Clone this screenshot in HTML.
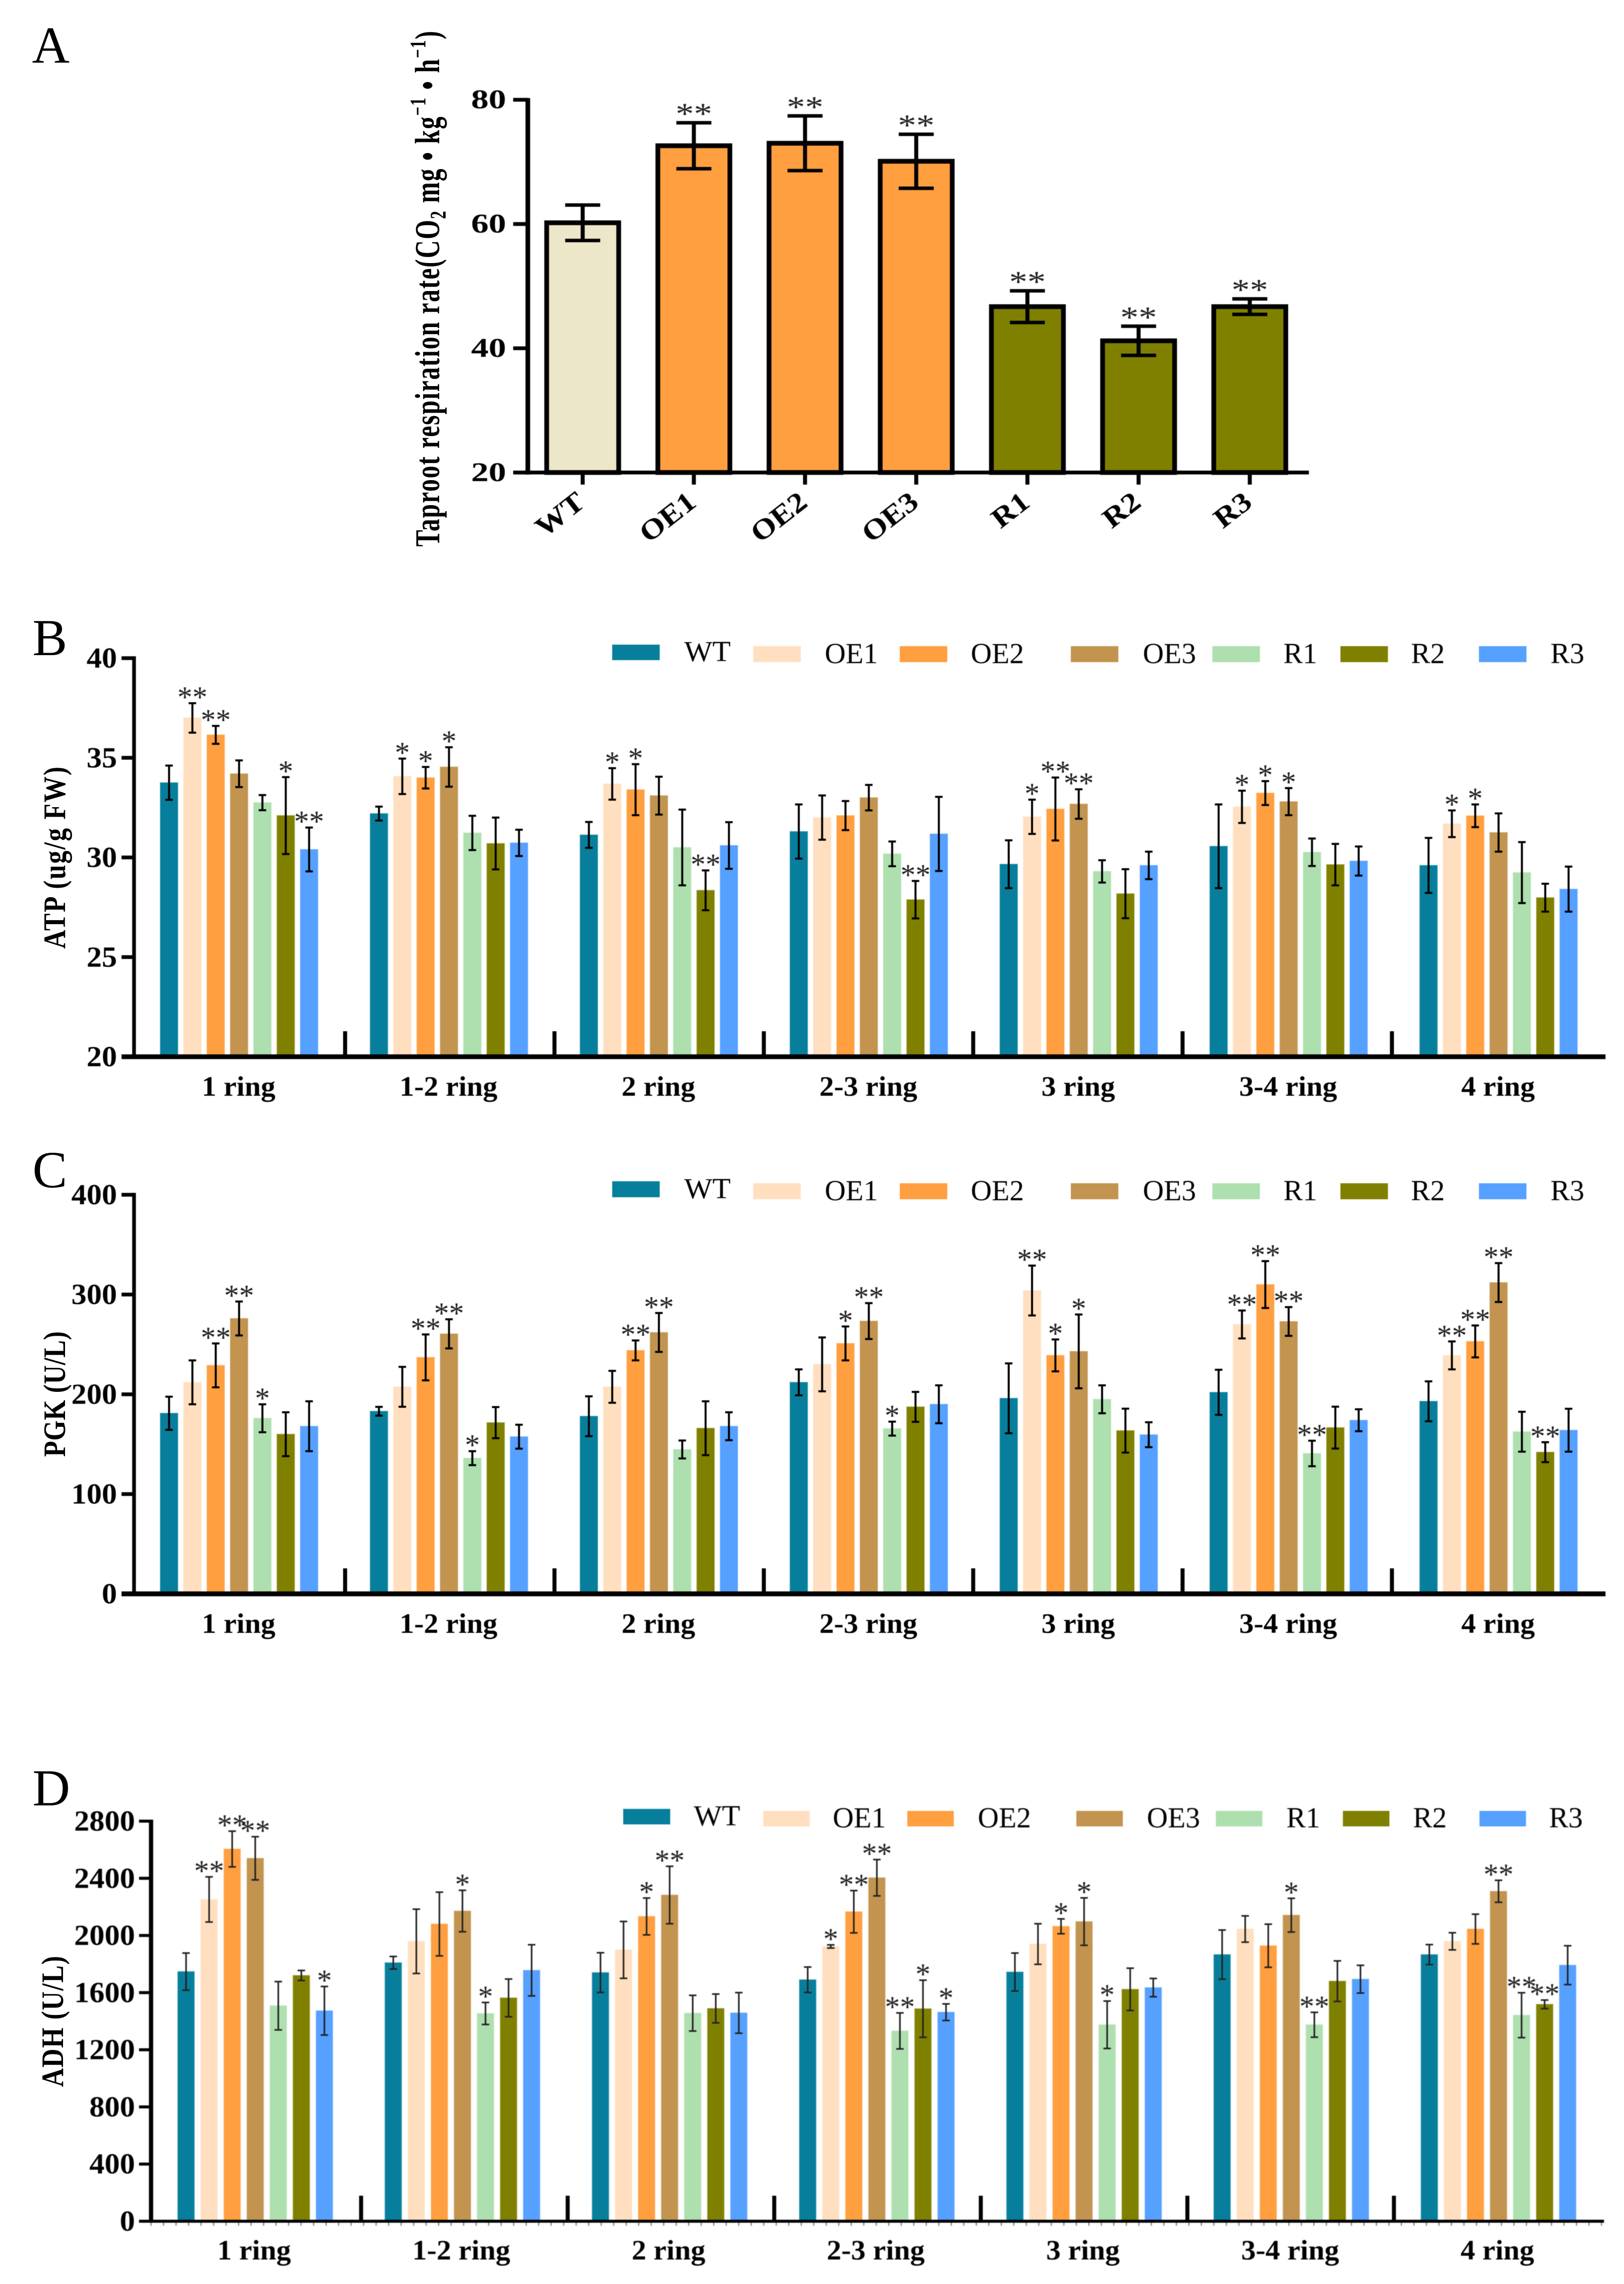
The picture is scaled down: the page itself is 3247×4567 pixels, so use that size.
<!DOCTYPE html>
<html>
<head>
<meta charset="utf-8">
<title>Taproot respiration and enzyme activity charts</title>
<style>
html,body{margin:0;padding:0;background:#fff;}
svg{display:block;font-family:"Liberation Serif",serif;}
</style>
</head>
<body>
<svg id="fig" xmlns="http://www.w3.org/2000/svg" width="3247" height="4567" viewBox="0 0 3247 4567">
<rect x="0" y="0" width="3247" height="4567" fill="#fff"/>

<text transform="translate(64,125)" font-size="104">A</text>
<text transform="translate(65,1310)" font-size="104">B</text>
<text transform="translate(65,2374)" font-size="104">C</text>
<text transform="translate(65,3610)" font-size="104">D</text>

<text transform="translate(878,1093) scale(1.4,1) rotate(-90)" font-size="50" font-weight="bold" textLength="1031" lengthAdjust="spacing">Taproot respiration rate(CO<tspan dy="9" font-size="32">2</tspan><tspan dy="-9"> mg • kg</tspan><tspan dy="-20" font-size="32">−1</tspan><tspan dy="20"> • h</tspan><tspan dy="-20" font-size="32">−1</tspan><tspan dy="20">)</tspan></text>
<text transform="translate(130,1897) scale(1.2,1) rotate(-90)" font-size="52" font-weight="bold" textLength="364" lengthAdjust="spacing">ATP (ug/g FW)</text>
<text transform="translate(130,2913) scale(1.2,1) rotate(-90)" font-size="52" font-weight="bold" textLength="251" lengthAdjust="spacing">PGK (U/L)</text>
<text transform="translate(126,4173) scale(1.2,1) rotate(-90)" font-size="52" font-weight="bold" textLength="262" lengthAdjust="spacing">ADH (U/L)</text>

<g font-size="58" style="filter:blur(0.5px)">
<rect x="1224" y="1289" width="95" height="31" fill="#077F9C"/>
<text transform="translate(1368,1322) scale(1.03,1)">WT</text>
<rect x="1506" y="1292" width="95" height="32" fill="#FFDFBF"/>
<text transform="translate(1649,1326)">OE1</text>
<rect x="1799" y="1292" width="95" height="32" fill="#FF9F40"/>
<text transform="translate(1941,1326)">OE2</text>
<rect x="2141" y="1292" width="95" height="32" fill="#C2944F"/>
<text transform="translate(2285,1326)">OE3</text>
<rect x="2424" y="1292" width="95" height="32" fill="#AEDFAE"/>
<text transform="translate(2566,1326)">R1</text>
<rect x="2680" y="1292" width="95" height="32" fill="#808000"/>
<text transform="translate(2821,1326)">R2</text>
<rect x="2957" y="1292" width="95" height="32" fill="#56A0FF"/>
<text transform="translate(3100,1326)">R3</text>
</g>

<g font-size="58" style="filter:blur(0.5px)">
<rect x="1224" y="2362" width="95" height="32" fill="#077F9C"/>
<text transform="translate(1368,2396) scale(1.03,1)">WT</text>
<rect x="1506" y="2366" width="95" height="32" fill="#FFDFBF"/>
<text transform="translate(1649,2400)">OE1</text>
<rect x="1799" y="2366" width="95" height="32" fill="#FF9F40"/>
<text transform="translate(1941,2400)">OE2</text>
<rect x="2141" y="2366" width="95" height="32" fill="#C2944F"/>
<text transform="translate(2285,2400)">OE3</text>
<rect x="2424" y="2366" width="95" height="32" fill="#AEDFAE"/>
<text transform="translate(2566,2400)">R1</text>
<rect x="2680" y="2366" width="95" height="32" fill="#808000"/>
<text transform="translate(2821,2400)">R2</text>
<rect x="2957" y="2366" width="95" height="32" fill="#56A0FF"/>
<text transform="translate(3100,2400)">R3</text>
</g>

<g font-size="58" style="filter:blur(0.8px)">
<rect x="1246" y="3617" width="94" height="31" fill="#077F9C"/>
<text transform="translate(1387,3650) scale(1.03,1)">WT</text>
<rect x="1526" y="3621" width="93" height="31" fill="#FFDFBF"/>
<text transform="translate(1665,3654)">OE1</text>
<rect x="1814" y="3621" width="93" height="31" fill="#FF9F40"/>
<text transform="translate(1955,3654)">OE2</text>
<rect x="2152" y="3621" width="93" height="31" fill="#C2944F"/>
<text transform="translate(2293,3654)">OE3</text>
<rect x="2431" y="3621" width="93" height="31" fill="#AEDFAE"/>
<text transform="translate(2572,3654)">R1</text>
<rect x="2685" y="3621" width="93" height="31" fill="#808000"/>
<text transform="translate(2825,3654)">R2</text>
<rect x="2958" y="3621" width="93" height="31" fill="#56A0FF"/>
<text transform="translate(3097,3654)">R3</text>
</g>
</svg>

<script>
const respLines = ["WT","OE1","OE2","OE3","R1","R2","R3"];
const respMeans = [60.2,72.6,73.0,70.1,46.7,41.2,46.7];
const respErrors = [2.85,3.7,4.4,4.35,2.55,2.35,1.25];
const respSig = ["","**","**","**","**","**","**"];
const respTicks = [20,40,60,80];

const rings = ["1 ring","1-2 ring","2 ring","2-3 ring","3 ring","3-4 ring","4 ring"];

const atpTicks = [20,25,30,35,40];
const atpMeans = [
  [33.75,37.0,36.15,34.2,32.75,32.1,30.4],
  [32.2,34.07,34.0,34.54,31.23,30.7,30.73],
  [31.13,33.69,33.4,33.1,30.5,28.35,30.6],
  [31.3,32.0,32.1,33.0,30.18,27.88,31.18],
  [29.66,32.04,32.43,32.68,29.3,28.18,29.6],
  [30.56,32.54,33.23,32.8,30.26,29.64,29.82],
  [29.6,31.69,32.09,31.25,29.24,27.98,28.41]
];
const atpErrors = [
  [0.86,0.74,0.45,0.67,0.38,1.93,1.1],
  [0.35,0.89,0.54,0.99,0.86,1.3,0.66],
  [0.65,0.79,1.28,0.95,1.9,1.0,1.17],
  [1.36,1.11,0.73,0.64,0.62,0.94,1.86],
  [1.2,0.86,1.58,0.74,0.56,1.23,0.69],
  [2.1,0.81,0.6,0.68,0.69,1.04,0.73],
  [1.38,0.67,0.57,0.96,1.53,0.7,1.13]
];
const atpSig = [
  ["","**","**","","","*","**"],
  ["","*","*","*","","",""],
  ["","*","*","","","**",""],
  ["","","","","","**",""],
  ["","*","**","**","","",""],
  ["","*","*","*","","",""],
  ["","*","*","","","",""]
];

const pgkTicks = [0,100,200,300,400];
const pgkMeans = [
  [181,212,229,276,176,160,168],
  [183,207.5,237,260.6,136,171.6,157.5],
  [178,207.5,244,262,144.7,166,168],
  [212,230,251,273.4,165.6,187.4,190],
  [196,304,239,243,195,163.6,159.5],
  [202,270,310,273,140.7,166.6,174],
  [193,239,253,312,162.5,142,164]
];
const pgkErrors = [
  [16.6,22,22,17,14,22,25],
  [4.4,20,23,14.6,7,15.6,12],
  [20,16,10,19.5,9,27,14],
  [13,27,17,18,7,15,19],
  [35,25,16,37,14,22,12.5],
  [22.6,14,23.5,14.4,12.8,21,11],
  [20,14,16,19.5,20,10,21.5]
];
const pgkSig = [
  ["","","**","**","*","",""],
  ["","","**","**","*","",""],
  ["","","**","**","","",""],
  ["","","*","**","*","",""],
  ["","**","*","*","","",""],
  ["","**","**","**","**","",""],
  ["","**","**","**","","**",""]
];

const adhTicks = [0,400,800,1200,1600,2000,2400,2800];
const adhMeans = [
  [1747,2252,2605,2540,1508,1720,1473],
  [1809,1959,2080,2171,1454,1563,1756],
  [1740,1899,2133,2283,1456,1489,1458],
  [1690,1923,2166,2404,1332,1487,1463],
  [1744,1940,2064,2097,1375,1623,1635],
  [1866,2045,1928,2142,1375,1680,1694],
  [1866,1959,2045,2309,1442,1518,1792]
];
const adhErrors = [
  [130,158,125,151,169,35,170],
  [44,225,223,145,77,132,179],
  [139,199,129,201,125,101,142],
  [89,11,148,127,126,200,58],
  [133,142,52,166,166,148,64],
  [172,92,151,118,87,142,97],
  [70,60,104,77,157,30,136]
];
const adhSig = [
  ["","**","**","**","","","*"],
  ["","","","*","*","",""],
  ["","","*","**","","",""],
  ["","*","**","**","**","*","*"],
  ["","","*","*","*","",""],
  ["","","","*","**","",""],
  ["","","","**","**","**",""]
];

const seriesColors = ["#077F9C","#FFDFBF","#FF9F40","#C2944F","#AEDFAE","#808000","#56A0FF"];
const respColors = ["#EDE7C9","#FF9F40","#FF9F40","#FF9F40","#808000","#808000","#808000"];

const NS = "http://www.w3.org/2000/svg";
const fig = document.getElementById("fig");

function mk(tag, parent, attrs) {
  const e = document.createElementNS(NS, tag);
  for (const k in attrs) e.setAttribute(k, attrs[k]);
  parent.appendChild(e);
  return e;
}
function txt(parent, x, y, str, size, sx, anchor, weight, fill) {
  const t = mk("text", parent, {
    transform: "translate(" + x + "," + y + ") scale(" + sx + ",1)",
    "font-size": size, "text-anchor": anchor, "font-weight": weight, fill: fill || "#000"
  });
  t.textContent = str;
  return t;
}
function scale(d0, d1, r0, r1) {
  return function (v) { return r0 + (v - d0) * (r1 - r0) / (d1 - d0); };
}
function hline(parent, x1, x2, y, w, color) {
  return mk("line", parent, { x1: x1, x2: x2, y1: y, y2: y, stroke: color || "#000", "stroke-width": w });
}
function vline(parent, x, y1, y2, w, color) {
  return mk("line", parent, { x1: x, x2: x, y1: y1, y2: y2, stroke: color || "#000", "stroke-width": w });
}

function drawRespiration() {
  const g = mk("g", fig, {style: "filter:blur(0.5px)"});
  
  
  const y = scale(20, 80, 944.8, 199.5);
  const x = function (i) { return 1165 + i * 222.3; };
  respLines.forEach(function (name, i) {
    const top = y(respMeans[i]);
    const bar = mk("rect", g, {
      x: x(i) - 72, y: top, width: 144, height: y(20) - top,
      fill: respColors[i], stroke: "#000", "stroke-width": 9.5
    });
    
    
    const hi = y(respMeans[i] + respErrors[i]);
    const lo = y(respMeans[i] - respErrors[i]);
    const stem = vline(g, x(i), hi, lo, 8);
    
    
    const capTop = hline(g, x(i) - 35, x(i) + 35, hi, 7);
    
    
    const capBottom = hline(g, x(i) - 35, x(i) + 35, lo, 7);
    
    
    if (respSig[i]) {
      const star = txt(g, x(i), hi + 2, respSig[i], 60, 1.22, "middle", "normal", "#222");
      
      
    }
    const tick = vline(g, x(i), 945, 969, 8);
    
    
    const t = txt(g, 0, 0, name, 56, 1, "end", "bold");
    t.setAttribute("transform", "translate(" + (x(i) + 8) + ",1010) rotate(-38) scale(1.15,1)");
    
    
  });
  respTicks.forEach(function (v) {
    const tick = hline(g, 1026, 1055, y(v), 7.6);
    
    
    const lab = txt(g, 1012, y(v) + 17, String(v), 54, 1.3, "end", "bold");
    
    
  });
  const yAxis = vline(g, 1055.3, 196, 949, 9.3);
  
  
  const xAxis = hline(g, 1026, 2617, 944.8, 7.6);
  
  
}

function drawGrouped(panel, means, errors, sig, ticks, o) {
  const g = mk("g", fig, {});
  
  
  if (o.blur) g.setAttribute("style", "filter:blur(" + o.blur + "px)");
  const y = scale(ticks[0], ticks[ticks.length - 1], o.y0, o.y1);
  const x = function (gi, si) { return o.g0 + gi * o.gStep + si * o.bStep; };
  means.forEach(function (row, gi) {
    row.forEach(function (v, si) {
      const top = y(v);
      const bar = mk("rect", g, {
        x: x(gi, si) - o.bw / 2, y: top, width: o.bw, height: o.y0 - top,
        fill: seriesColors[si], stroke: seriesColors[si], "stroke-opacity": 0.45, "stroke-width": 2
      });
      
      
    });
  });
  means.forEach(function (row, gi) {
    row.forEach(function (v, si) {
      const hi = y(v + errors[gi][si]);
      const lo = y(v - errors[gi][si]);
      const cx = x(gi, si);
      const stem = vline(g, cx, hi, lo, o.ew, o.ec);
      
      
      const capTop = hline(g, cx - 7.5, cx + 7.5, hi, o.ew, o.ec);
      
      
      const capBottom = hline(g, cx - 7.5, cx + 7.5, lo, o.ew, o.ec);
      
      
      if (sig[gi][si]) {
        const star = txt(g, cx, hi + 8, sig[gi][si], 60, 1, "middle", "normal", "#222");
        
        
      }
    });
  });
  ticks.forEach(function (v) {
    const tick = hline(g, o.tickLeft, o.axisX, y(v), o.tickW);
    
    
    const lab = txt(g, o.labelRight, y(v) + 19, String(v), 58, 1.05, "end", "bold");
    
    
  });
  rings.forEach(function (name, i) {
    const lab = txt(g, o.catX + i * o.gStep, o.catY, name, 56, 1.04, "middle", "bold");
    
    
    if (i < rings.length - 1) {
      const sep = vline(g, o.sep0 + i * o.sepStep, o.y0 - 51, o.y0, 8);
      
      
    }
  });
  if (o.minor) {
    for (let mx = o.axisX; mx < o.axisRight; mx += o.minor) {
      const m = vline(g, mx, o.y0, o.y0 + o.xw / 2 + 6, 2.5, "#888");
      
      
    }
  }
  const yAxis = vline(g, o.axisX, o.y1 - o.tickW / 2, o.y0, o.yw);
  
  
  const xAxis = hline(g, o.tickLeft, o.axisRight, o.y0, o.xw);
  
  
}

drawRespiration();
drawGrouped("b", atpMeans, atpErrors, atpSig, atpTicks, {
  y0: 2113, y1: 1316, g0: 338, gStep: 419.7, bStep: 46.67, bw: 35, ew: 4, ec: "#000",
  tickLeft: 243, axisX: 268, axisRight: 3210, tickW: 7.4, yw: 7.4, xw: 9.4,
  labelRight: 234, catX: 477, catY: 2191, sep0: 690, sepStep: 418.6, blur: 0.5
});
drawGrouped("c", pgkMeans, pgkErrors, pgkSig, pgkTicks, {
  y0: 3187, y1: 2389, g0: 338, gStep: 419.7, bStep: 46.67, bw: 35, ew: 4, ec: "#000",
  tickLeft: 243, axisX: 268, axisRight: 3210, tickW: 7.4, yw: 7.4, xw: 9.7,
  labelRight: 234, catX: 477, catY: 3265, sep0: 690, sepStep: 418.6, blur: 0.5
});
drawGrouped("d", adhMeans, adhErrors, adhSig, adhTicks, {
  y0: 4441.5, y1: 3641.5, g0: 372, gStep: 414.3, bStep: 46.1, bw: 33, ew: 3.2, ec: "#222",
  tickLeft: 278, axisX: 302, axisRight: 3207, tickW: 6, yw: 8.5, xw: 6,
  labelRight: 270, catX: 508, catY: 4518, sep0: 722, sepStep: 413, minor: 25, blur: 0.8
});
</script>
</body>
</html>
